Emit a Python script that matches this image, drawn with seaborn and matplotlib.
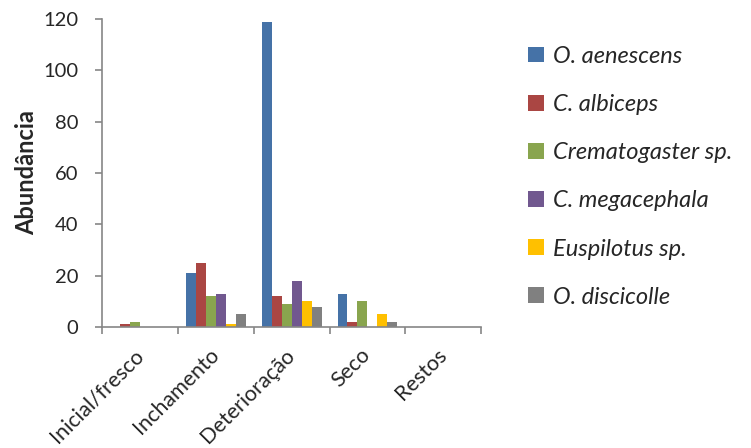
import matplotlib
matplotlib.use("Agg")
import matplotlib.pyplot as plt
import seaborn as sns
import pandas as pd

# Decomposition stages and species abundances
stages = ["Inicial/fresco", "Inchamento", "Deterioração", "Seco", "Restos"]
species = ["O. aenescens", "C. albiceps", "Crematogaster sp.",
           "C. megacephala", "Euspilotus sp.", "O. discicolle"]
o_aenescens = [0, 21, 119, 13, 0]
c_albiceps = [1, 25, 12, 2, 0]
crematogaster = [2, 12, 9, 10, 0]
c_megacephala = [0, 13, 18, 0, 0]
euspilotus = [0, 1, 10, 5, 0]
o_discicolle = [0, 5, 8, 2, 0]
yticks = [0, 20, 40, 60, 80, 100, 120]

colors = ["#4572A7", "#AA4643", "#89A54E", "#71588F", "#FFC000", "#808080"]

series = [o_aenescens, c_albiceps, crematogaster, c_megacephala, euspilotus, o_discicolle]
rows = []
for sp, vals in zip(species, series):
    for st, v in zip(stages, vals):
        rows.append({"Estágio": st, "Espécie": sp, "Abundância": v})
df = pd.DataFrame(rows)

sns.set_style("white")
plt.rcParams["font.family"] = ["Lato", "DejaVu Sans"]

fig = plt.figure(figsize=(7.51, 4.48), dpi=100)
ax = fig.add_axes([0.1358, 0.27, 0.505, 0.6876])

sns.barplot(data=df, x="Estágio", y="Abundância", hue="Espécie",
            hue_order=species, order=stages, palette=colors,
            width=0.79, saturation=1, ax=ax, legend=True,
            edgecolor="none", linewidth=0)

ax.set_ylim(0, 120)
ax.set_xlim(-0.5, 4.5)
ax.set_yticks(yticks)
ax.set_xticks([i - 0.5 for i in range(6)], minor=True)
ax.tick_params(axis="x", which="major", length=0, labelsize=15.5, pad=18)
ax.tick_params(axis="x", which="minor", length=5, color="#868686", width=1.2, direction="out")
ax.tick_params(axis="y", length=5, color="#868686", width=1.2, direction="out", labelsize=14.5, pad=12)
ax.tick_params(axis="both", bottom=True, left=True, which="both")
for lbl in ax.get_xticklabels():
    lbl.set_rotation(45)
    lbl.set_ha("right")
    lbl.set_va("center")
    lbl.set_rotation_mode("anchor")

for side in ["top", "right"]:
    ax.spines[side].set_visible(False)
for side in ["left", "bottom"]:
    ax.spines[side].set_color("#868686")
    ax.spines[side].set_linewidth(1.2)

ax.set_xlabel("")
ax.set_ylabel("Abundância", fontsize=17, fontweight="bold", labelpad=4)

handles, labels = ax.get_legend_handles_labels()
ax.get_legend().remove()
leg = fig.legend(handles, labels, loc="upper left", bbox_to_anchor=(0.675, 0.945),
                 frameon=False, prop={"size": 17, "style": "italic"},
                 labelspacing=1.15, handlelength=0.65, handleheight=0.65,
                 handletextpad=0.4)

fig.savefig("out.png", dpi=100)
